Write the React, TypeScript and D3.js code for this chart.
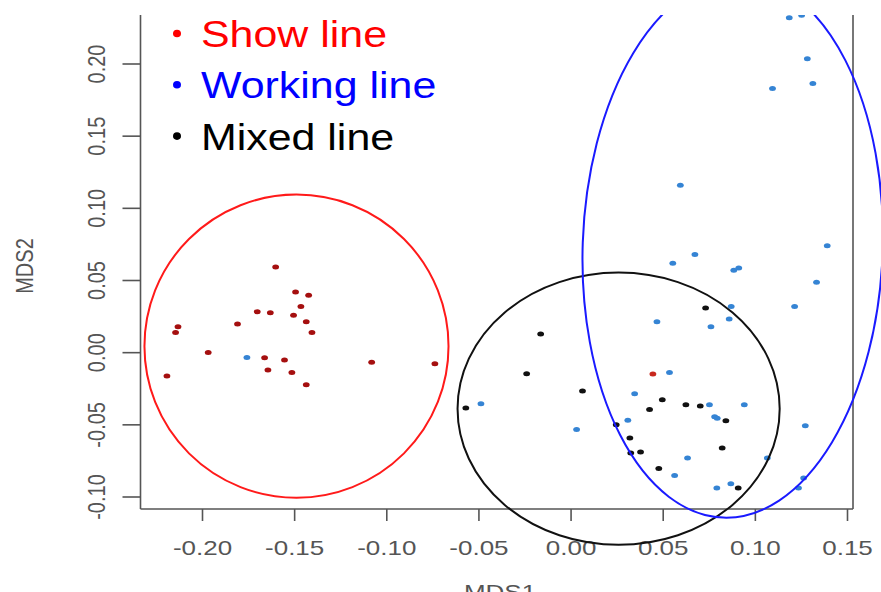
import React from 'react';
import * as d3 from 'd3';

// ---- data (MDS1, MDS2) ----
const showLine: [number, number][] = [
  [-0.1603, 0.0594], [-0.1495, 0.0421], [-0.1424, 0.0397], [-0.1466, 0.0319],
  [-0.1703, 0.0284], [-0.1632, 0.0277], [-0.1506, 0.0259], [-0.1437, 0.0215],
  [-0.181, 0.0199], [-0.2133, 0.018], [-0.2146, 0.0139], [-0.1406, 0.0139],
  [-0.1969, 0.0002], [-0.1663, -0.0035], [-0.1555, -0.0051], [-0.1645, -0.012],
  [-0.1515, -0.0137], [-0.2193, -0.0162], [-0.1437, -0.0222], [-0.1082, -0.0067],
  [-0.0739, -0.0076], [0.0444, -0.0148],
];
const workingLine: [number, number][] = [
  [-0.1759, -0.0033], [-0.0489, -0.0354], [0.003, -0.0532], [0.0345, -0.0284],
  [0.0308, -0.0469], [0.1332, 0.0488], [0.0869, 0.0319], [0.1213, 0.0319],
  [0.0466, 0.0215], [0.0858, 0.0234], [0.0759, 0.018], [0.0534, -0.0137],
  [0.0751, -0.0361], [0.094, -0.0361], [0.0779, -0.0444], [0.0793, -0.0455],
  [0.1271, -0.0506], [0.0632, -0.073], [0.1065, -0.073], [0.0562, -0.0851],
  [0.0791, -0.0938], [0.0867, -0.0908], [0.1262, -0.0869], [0.1234, -0.0938],
  [0.1184, 0.2321], [0.1251, 0.2337], [0.1282, 0.2037], [0.1312, 0.1865],
  [0.1093, 0.1831], [0.0593, 0.116], [0.139, 0.074], [0.0672, 0.068],
  [0.0552, 0.0619], [0.0883, 0.0571], [0.091, 0.0587],
];
const mixedLine: [number, number][] = [
  [-0.0165, 0.013], [-0.0241, -0.0146], [0.0062, -0.0266], [-0.0571, -0.0384],
  [0.0245, -0.0499], [0.0319, -0.0592], [0.0324, -0.0696], [0.0377, -0.0689],
  [0.073, 0.031], [0.0495, -0.0326], [0.0426, -0.0393], [0.0623, -0.0361],
  [0.0701, -0.037], [0.084, -0.0472], [0.082, -0.0661], [0.0476, -0.0802],
  [0.0907, -0.0938],
];

// group ellipses: centre and radii in data units, rotation in degrees
const ellipseCenters: [number, number][] = [[-0.149, 0.0045], [0.0258, -0.0388], [0.0877, 0.0728]];
const ellipseRadii: [number, number][] = [[0.0825, 0.105], [0.0874, 0.0943], [0.0814, 0.1872]];
const ellipseRotation = [0, 0, 2];
const ellipseColors = ['#ff1a1a', '#111111', '#1a1aff'];

const xTicks = [-0.2, -0.15, -0.1, -0.05, 0, 0.05, 0.1, 0.15];
const xTickLabels = ['-0.20', '-0.15', '-0.10', '-0.05', '0.00', '0.05', '0.10', '0.15'];
const yTicks = [-0.1, -0.05, 0, 0.05, 0.1, 0.15, 0.2];
const yTickLabels = ['-0.10', '-0.05', '0.00', '0.05', '0.10', '0.15', '0.20'];

const legendNames = ['Show line', 'Working line', 'Mixed line'];
const legendColors = ['#ff0000', '#0000ff', '#000000'];

const W = 881;
const H = 592;
const FONT = '"Liberation Sans", Arial, Helvetica, sans-serif';

export default function App() {
  const x = d3.scaleLinear().domain([-0.2, 0.15]).range([202.5, 847.5]);
  const y = d3.scaleLinear().domain([-0.1, 0.2]).range([497, 64]);
  const left = 140.5, right = 853, bottom = 509, top = 15;

  const series = [
    { pts: showLine.slice(0, 21), color: '#a50f0f' },
    { pts: showLine.slice(21), color: '#c8281e' },
    { pts: workingLine, color: '#3584d4' },
    { pts: mixedLine, color: '#111111' },
  ];

  return (
    <div style={{ position: 'fixed', left: 0, top: 0, width: W, height: H, background: '#fff' }}>
      <svg width={W} height={H} style={{ display: 'block' }}>
        <defs>
          <clipPath id="topclip">
            <rect x={0} y={top} width={W} height={H} />
          </clipPath>
        </defs>
        <rect x={0} y={0} width={W} height={H} fill="#fff" />

        {/* box */}
        <g stroke="#555" strokeWidth={1.6} fill="none">
          <line x1={left} y1={top} x2={left} y2={bottom} />
          <line x1={right} y1={top} x2={right} y2={bottom} />
          <line x1={left} y1={bottom} x2={right} y2={bottom} />
        </g>

        {/* y axis */}
        <g>
          {yTicks.map((t, i) => (
            <g key={i}>
              <line x1={left - 18} x2={left} y1={y(t)} y2={y(t)} stroke="#555" strokeWidth={1.6} />
              <text
                transform={`translate(${105},${y(t)}) scale(1.15,1) rotate(-90)`}
                textAnchor="middle"
                fontFamily={FONT}
                fontSize={20}
                fill="#555"
              >
                {yTickLabels[i]}
              </text>
            </g>
          ))}
          <text
            transform={`translate(${33},${266}) scale(1.15,1) rotate(-90)`}
            textAnchor="middle"
            fontFamily={FONT}
            fontSize={20}
            fill="#555"
          >
            MDS2
          </text>
        </g>

        {/* x axis */}
        <g>
          {xTicks.map((t, i) => (
            <g key={i}>
              <line x1={x(t)} x2={x(t)} y1={bottom} y2={bottom + 12} stroke="#555" strokeWidth={1.6} />
              <text
                transform={`translate(${x(t)},${555}) scale(1.3,1)`}
                textAnchor="middle"
                fontFamily={FONT}
                fontSize={20}
                fill="#555"
              >
                {xTickLabels[i]}
              </text>
            </g>
          ))}
          <text
            transform={`translate(${500},${599}) scale(1.3,1)`}
            textAnchor="middle"
            fontFamily={FONT}
            fontSize={20}
            fill="#555"
          >
            MDS1
          </text>
        </g>

        <g clipPath="url(#topclip)">
          {/* points */}
          {series.map((s, si) =>
            s.pts.map((p, pi) => (
              <ellipse key={`${si}-${pi}`} cx={x(p[0])} cy={y(p[1])} rx={3.4} ry={2.5} fill={s.color} />
            ))
          )}
          {/* group ellipses */}
          {ellipseCenters.map((c, i) => {
            const cx = x(c[0]);
            const cy = y(c[1]);
            const rx = x(c[0] + ellipseRadii[i][0]) - cx;
            const ry = cy - y(c[1] + ellipseRadii[i][1]);
            return (
              <ellipse
                key={i}
                cx={cx}
                cy={cy}
                rx={rx}
                ry={ry}
                transform={`rotate(${ellipseRotation[i]},${cx},${cy})`}
                fill="none"
                stroke={ellipseColors[i]}
                strokeWidth={2}
              />
            );
          })}
        </g>

        {/* legend */}
        {legendNames.map((n, i) => (
          <g key={i}>
            <ellipse cx={177} cy={33.5 + i * 51.3} rx={4} ry={3.8} fill={legendColors[i]} />
            <text
              transform={`translate(201,${47 + i * 51.3}) scale(1.16,1)`}
              fontFamily={FONT}
              fontSize={37}
              fill={legendColors[i]}
            >
              {n}
            </text>
          </g>
        ))}
      </svg>
    </div>
  );
}
